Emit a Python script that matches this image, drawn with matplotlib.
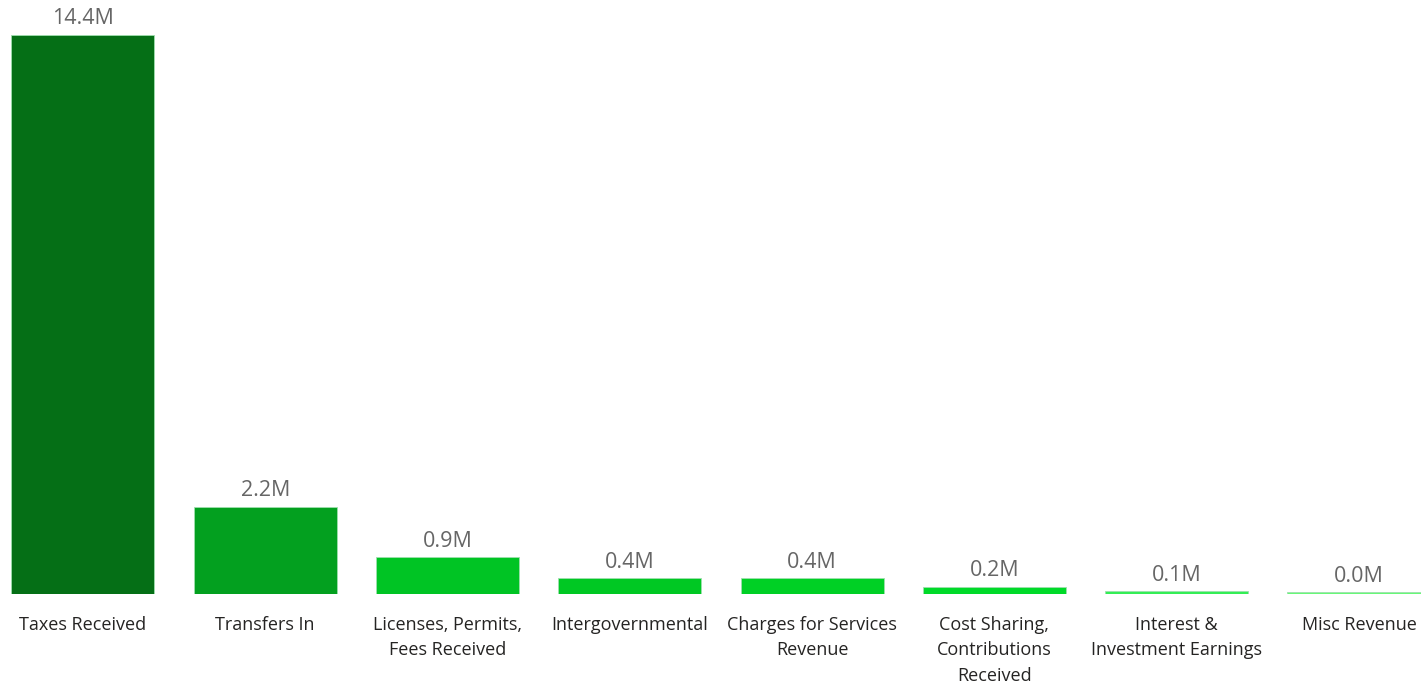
import matplotlib
matplotlib.use("Agg")
import matplotlib.pyplot as plt

categories = [
    "Taxes Received",
    "Transfers In",
    "Licenses, Permits,\nFees Received",
    "Intergovernmental",
    "Charges for Services\nRevenue",
    "Cost Sharing,\nContributions\nReceived",
    "Interest &\nInvestment Earnings",
    "Misc Revenue",
]
values = [14.4, 2.24, 0.95, 0.41, 0.41, 0.18, 0.07, 0.04]   # millions
value_labels = ["14.4M", "2.2M", "0.9M", "0.4M", "0.4M", "0.2M", "0.1M", "0.0M"]
colors = ["#056F16", "#03A01F", "#00C424", "#00C823", "#00D025",
          "#00DA29", "#33EE55", "#66F977"]

plt.rcParams['font.family'] = ['Open Sans', 'DejaVu Sans']

fig = plt.figure(figsize=(14.21, 6.83), dpi=100)
ax = fig.add_axes([0, 0.1303, 1, 0.8697])

x = range(len(categories))
bars = ax.bar(x, values, width=0.785, color=colors, edgecolor="#9fdfae", linewidth=0.6)

for xi, v, lab in zip(x, values, value_labels):
    ax.annotate(lab, (xi, v), xytext=(0, 4), textcoords="offset points",
                ha="center", va="bottom", fontsize=15.5, color="#666666")

ax.set_xlim(-0.455, 7.34)
ax.set_ylim(0, 15.3)
ax.set_xticks(list(x))
ax.set_xticklabels(categories, fontsize=13, color="#252423", linespacing=1.55)
ax.tick_params(axis="x", length=0, pad=15.5)
ax.set_yticks([])
for s in ax.spines.values():
    s.set_visible(False)

fig.savefig("out.png", dpi=100)
